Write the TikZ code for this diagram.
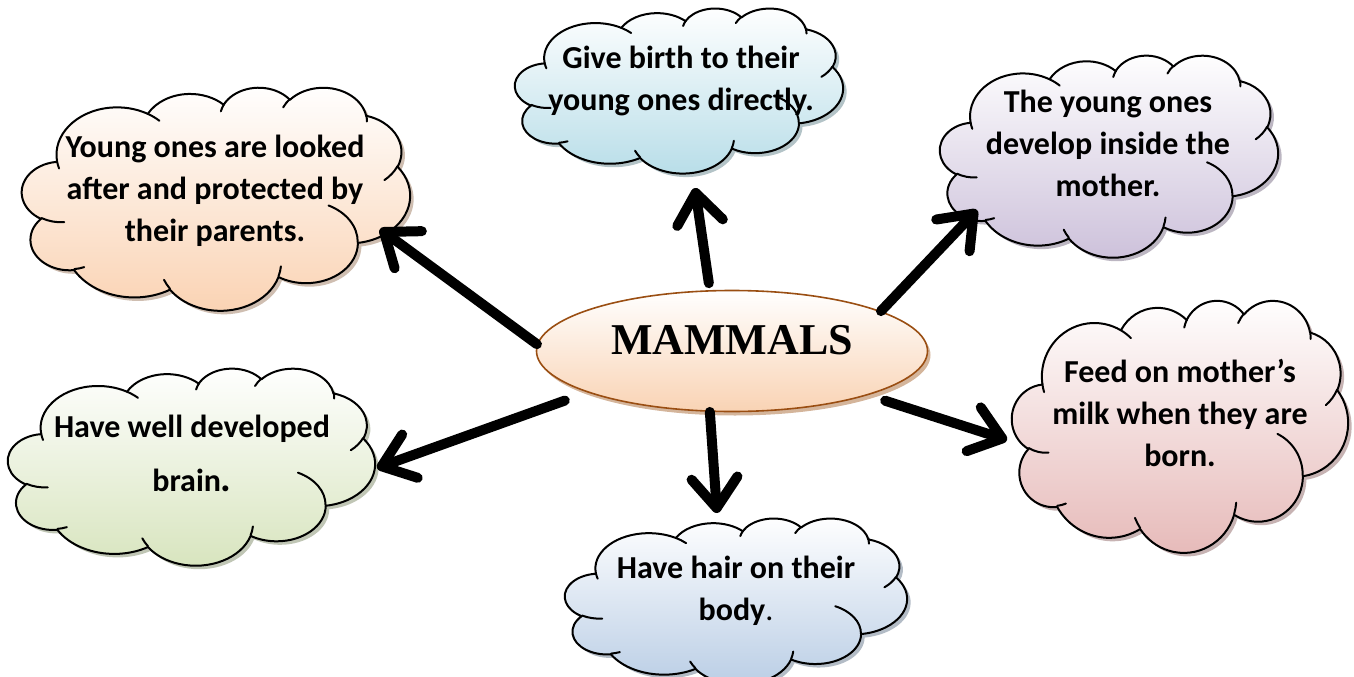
\documentclass[tikz,border=0pt]{standalone}
\usepackage{fontspec}
\setmainfont{Carlito}
\newfontfamily\serifbold{Liberation Serif}
\usetikzlibrary{shapes.geometric,shadows,arrows.meta}
\definecolor{cPeach}{HTML}{FAD2B2}
\definecolor{cSky}{HTML}{B7DDE8}
\definecolor{cLilac}{HTML}{CCC0DA}
\definecolor{cRose}{HTML}{E6B9B8}
\definecolor{cSteel}{HTML}{B9CDE5}
\definecolor{cSage}{HTML}{D7E4BD}
\definecolor{cBrown}{HTML}{9A4E12}
\definecolor{cEll}{HTML}{F9D3B4}
\tikzset{
  warc/.style n args={4}{insert path={arc[
      start angle={atan2((#1)*sin(#3),(#2)*cos(#3))},
      delta angle={mod(atan2((#1)*sin((#3)+(#4)),(#2)*cos((#3)+(#4)))-atan2((#1)*sin(#3),(#2)*cos(#3))+720,360)},
      x radius=#1, y radius=#2]}},
  cloudoutline/.style={insert path={(39.00,143.70)
      [warc={67.53}{91.90}{-190.4875}{123.7805}]
      [warc={53.33}{72.67}{-144.1024}{89.9452}]
      [warc={43.65}{59.45}{-145.8079}{99.7230}]
      [warc={48.57}{65.95}{-130.9861}{117.2417}]
      [warc={53.33}{72.73}{-78.7089}{109.0269}]
      [warc={67.75}{92.20}{-46.2673}{130.2690}]
      [warc={57.85}{78.67}{0.6250}{114.0333}]
      [warc={67.52}{92.15}{22.4516}{115.1726}]
      [warc={77.20}{105.43}{66.2426}{75.7110}]
      [warc={43.60}{59.18}{-274.9421}{146.7356}]
      [warc={43.45}{59.45}{-246.8285}{152.5189}] -- cycle}},
  cloudinner/.style={insert path={
      (46.93,261.77) [warc={43.45}{59.45}{86.7420}{26.4295}]
      (69.28,348.99) [warc={43.60}{59.18}{73.6105}{11.4475}]
      (164.78,390.90) [warc={67.52}{92.15}{137.6242}{14.0811}]
      (288.27,347.51) [warc={67.52}{92.15}{6.4533}{15.9984}]
      (341.29,229.54) [warc={57.85}{78.67}{-70.2924}{70.9174}]
      (417.98,153.54) [warc={53.33}{72.73}{30.3180}{27.7515}]
      (383.24,54.26) [warc={48.57}{65.95}{-13.7443}{14.8589}]
      (290.78,39.52) [warc={48.57}{65.95}{-149.1815}{18.1954}]
      (221.41,47.20) [warc={43.65}{59.45}{-163.4943}{17.6864}]
      (140.00,51.92) [warc={67.53}{91.90}{-66.7070}{12.3194}]
      (41.27,157.89) [warc={67.53}{91.90}{157.6544}{11.8582}]}},
  cloudline/.style={draw=black, line width=2pt, line join=round, line cap=round},
}
% #1 colour, #2 left, #3 top, #4 width, #5 height
\newcommand\wordcloud[5]{%
  \begin{scope}[shift={(#2,#3)}, x=#4pt/432, y=-#5pt/432]
    \path[top color=white, bottom color=#1,
      drop shadow={shadow xshift=3.5pt, shadow yshift=-3.5pt, fill=#1!70!black, opacity=0.6},
      cloudoutline];
    \path[cloudline, cloudoutline];
    \path[cloudline, cloudinner];
  \end{scope}}
\begin{document}
\begin{tikzpicture}[x=1pt,y=-1pt,
  txt/.style={font=\bfseries\fontsize{32}{42}\selectfont, align=center, text=black, inner sep=0pt},
  arr/.style={line width=10pt, line cap=round, -{Straight Barb[length=30pt,width=46pt,round]}},
]
\useasboundingbox (0,0) rectangle (1354,677);

% clouds
\wordcloud{cPeach}{22}{87}{388}{223}
\wordcloud{cSky}{515}{8}{328}{165}
\wordcloud{cLilac}{940}{55}{338}{202}
\wordcloud{cRose}{1012}{300}{336}{252}
\wordcloud{cSteel}{565}{518}{342}{166}
\wordcloud{cSage}{8}{368}{367}{197}

% texts
\node[txt] (t1) at (215,191) {Young ones are looked\\after and protected by\\their parents.};
\node[txt] (t2) at (681,81) {Give birth to their\\young ones directly.};
\node[txt] (t3) at (1108,143) {The young ones\\develop inside the\\mother.};
\node[txt] (t4) at (1180,413) {Feed on mother’s\\milk when they are\\born.};
\node[txt] (t5) at (736,591) {Have hair on their\\body{\mdseries.}};
\node[txt] (t6) at (192,453) {Have well developed\\[12pt]brain{\fontsize{40}{42}\selectfont.}};

% central ellipse
\node[ellipse, draw=cBrown, line width=1.6pt, minimum width=391pt, minimum height=121pt,
  top color=white, bottom color=cEll,
  drop shadow={shadow xshift=3pt, shadow yshift=-4pt, fill=cBrown!70, opacity=0.6}] (m) at (732,351) {};
\node[font=\serifbold\bfseries\fontsize{44}{50}\selectfont, inner sep=0pt] (mt) at (732,340) {MAMMALS};

% arrow ends
\coordinate (h1) at (380,229);
\coordinate (h2) at (695,188);
\coordinate (h3) at (977,210);
\coordinate (h4) at (1007,440);
\coordinate (h5) at (717,513);
\coordinate (h6) at (377,468);

% arrows
\draw[arr] (m.178) -- (h1);
\draw[arr, shorten <=7pt] (m.110) -- (h2);
\draw[arr] (m.15) -- (h3);
\draw[arr, shorten <=18pt] (m.-18) -- (h4);
\draw[arr] (m.-110) -- (h5);
\draw[arr, shorten <=24pt] (m.196) -- (h6);
\end{tikzpicture}
\end{document}
